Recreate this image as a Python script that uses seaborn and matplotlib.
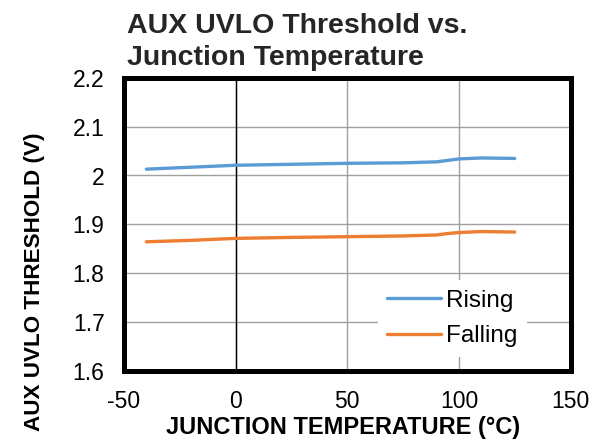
import matplotlib
matplotlib.use('Agg')
import matplotlib.pyplot as plt
import seaborn as sns
import pandas as pd

# Data
temperature = [-40, -20, 0, 25, 50, 75, 90, 95, 100, 110, 125]
rising = [2.013, 2.017, 2.021, 2.023, 2.025, 2.026, 2.028, 2.031, 2.034, 2.036, 2.035]
falling = [1.864, 1.867, 1.871, 1.873, 1.8745, 1.876, 1.878, 1.881, 1.883, 1.885, 1.884]
series_names = ['Rising', 'Falling']
x_ticks = [-50, 0, 50, 100, 150]
y_ticks = [1.6, 1.7, 1.8, 1.9, 2.0, 2.1, 2.2]
y_tick_labels = ['1.6', '1.7', '1.8', '1.9', '2', '2.1', '2.2']

df = pd.concat([
    pd.DataFrame({'temp': temperature, 'value': rising, 'series': series_names[0]}),
    pd.DataFrame({'temp': temperature, 'value': falling, 'series': series_names[1]}),
], ignore_index=True)

sns.set_theme(style='white')
plt.rcParams['font.family'] = ['Liberation Sans', 'DejaVu Sans']
plt.rcParams['axes.unicode_minus'] = False

fig = plt.figure(figsize=(5.98, 4.40), dpi=100)
ax = fig.add_axes([124 / 598, 1 - 370.5 / 440, 446.5 / 598, 292.5 / 440])

palette = {'Rising': '#5B9BD5', 'Falling': '#ED7D31'}
sns.lineplot(data=df, x='temp', y='value', hue='series', palette=palette,
             linewidth=2.4, ax=ax, legend=True)

ax.set_xlim(-50, 150)
ax.set_ylim(1.6, 2.2)
ax.set_xticks(x_ticks)
ax.set_yticks(y_ticks)
ax.set_yticklabels(y_tick_labels)
ax.tick_params(axis='both', labelsize=16.5, length=0, colors='black')
ax.tick_params(axis='x', pad=14)
ax.tick_params(axis='y', pad=14)

# grid, the zero line is drawn black like the original
ax.grid(True, color='#a0a0a0', linewidth=1.0)
ax.axvline(0, color='black', linewidth=1.0, zorder=1.5)
ax.set_axisbelow(True)

for sp in ax.spines.values():
    sp.set_linewidth(3.6)
    sp.set_color('black')

ax.set_xlabel('JUNCTION TEMPERATURE (°C)', fontsize=17, fontweight='bold', color='black')
ax.xaxis.set_label_coords(0.49, -0.156)
ax.set_ylabel('AUX UVLO THRESHOLD (V)', fontsize=16.2, fontweight='bold', color='black')
ax.yaxis.set_label_coords(-0.176, 0.305)

leg = ax.legend(loc='lower right', bbox_to_anchor=(0.903, 0.047), borderaxespad=0,
                frameon=True, fontsize=17.5, handlelength=2.22, handletextpad=0.2,
                labelspacing=0.54, borderpad=0.4, fancybox=False)
leg.get_frame().set_edgecolor('none')
leg.get_frame().set_facecolor('white')
leg.get_frame().set_alpha(1.0)
for t in leg.get_texts():
    t.set_color('black')

fig.text(127 / 598, 1 - 33 / 440, 'AUX UVLO Threshold vs.', fontsize=20.5,
         fontweight='bold', ha='left', va='baseline')
fig.text(127 / 598, 1 - 65 / 440, 'Junction Temperature', fontsize=20.5,
         fontweight='bold', ha='left', va='baseline')

fig.savefig('out.png', dpi=100)
